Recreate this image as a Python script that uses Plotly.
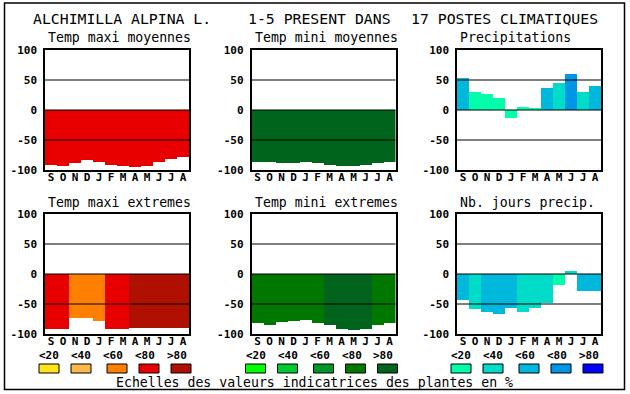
import plotly.graph_objects as go

W, H = 630, 394

months = ["S", "O", "N", "D", "J", "F", "M", "A", "M", "J", "J", "A"]
y_ticks = [-100, -50, 0, 50, 100]
grid_vals = [50, 0, -50]
class_labels = ["<20", "<40", "<60", "<80", ">80"]

tmax_moy = [-92, -93, -88, -84, -86, -92, -93, -95, -93, -87, -82, -78]
tmin_moy = [-86, -86, -88, -88, -86, -88, -91, -93, -93, -91, -88, -86]
precip = [53, 30, 27, 20, -13, 5, 2, 37, 45, 60, 30, 40]
tmax_ext = [-91, -91, -74, -74, -78, -92, -92, -90, -90, -90, -90, -90]
tmin_ext = [-82, -85, -80, -78, -76, -82, -85, -92, -93, -92, -85, -82]
nb_jours = [-44, -58, -64, -66, -56, -64, -56, -48, -18, 5, -28, -28]

tmax_moy_cls = [3] * 12
tmin_moy_cls = [4] * 12
precip_cls = [2, 0, 0, 0, 0, 0, 0, 2, 1, 3, 1, 2]
tmax_ext_cls = [3, 3, 2, 2, 2, 3, 3, 4, 4, 4, 4, 4]
tmin_ext_cls = [3, 3, 3, 3, 3, 3, 4, 4, 4, 4, 3, 3]
nb_jours_cls = [2, 1, 2, 2, 2, 1, 1, 1, 0, 1, 2, 2]

warm = ["#FFE41C", "#FFB84C", "#FF8000", "#E80000", "#B01000"]
green = ["#00FF00", "#00C832", "#009628", "#007800", "#00641C"]
blue = ["#00FFAA", "#00DCC8", "#00B8DC", "#0096E6", "#0000FF"]

title_main = ["ALCHIMILLA ALPINA L.", "1-5 PRESENT DANS", "17 POSTES CLIMATIQUES"]
footer = "Echelles des valeurs indicatrices des plantes en %"

panels = [
    ("Temp maxi moyennes", tmax_moy, tmax_moy_cls, warm, 45, 50),
    ("Temp mini moyennes", tmin_moy, tmin_moy_cls, green, 251.5, 50),
    ("Precipitations", precip, precip_cls, blue, 457, 50),
    ("Temp maxi extremes", tmax_ext, tmax_ext_cls, warm, 45, 214),
    ("Temp mini extremes", tmin_ext, tmin_ext_cls, green, 251.5, 214),
    ("Nb. jours precip.", nb_jours, nb_jours_cls, blue, 457, 214),
]
PW, PH = 144, 120

MONO = "DejaVu Sans Mono"
tickfont = dict(family=MONO, size=11, color="black", weight="bold")

def px(x):
    return x / W

def py(y):
    return 1 - y / H

fig = go.Figure()
shapes = []
annotations = []

for i, (title, vals, cls, pal, left, top) in enumerate(panels):
    n = i + 1
    xa = "x" if n == 1 else f"x{n}"
    ya = "y" if n == 1 else f"y{n}"
    fig.add_trace(go.Bar(
        x=list(range(len(months))), y=vals,
        marker=dict(color=[pal[c] for c in cls], line=dict(width=0)),
        width=1.0, xaxis=xa, yaxis=ya, showlegend=False, hoverinfo="skip",
    ))
    xkey = "xaxis" if n == 1 else f"xaxis{n}"
    ykey = "yaxis" if n == 1 else f"yaxis{n}"
    fig.update_layout(**{
        xkey: dict(domain=[px(left), px(left + PW)], anchor=ya,
                   range=[-0.5, 11.5], tickvals=list(range(12)), ticktext=months,
                   showgrid=False, zeroline=False, showline=True, mirror=True,
                   linecolor="black", linewidth=1.5, ticks="",
                   ticklabelstandoff=-4, automargin=False,
                   tickfont=tickfont, fixedrange=True),
        ykey: dict(domain=[py(top + PH), py(top)], anchor=xa,
                   range=[-100, 100], tickvals=y_ticks,
                   ticktext=[str(v) for v in y_ticks],
                   showgrid=False, zeroline=False, showline=True, mirror=True,
                   linecolor="black", linewidth=1.5, ticks="outside", ticklen=4,
                   automargin=False,
                   tickcolor="rgba(0,0,0,0)", tickfont=tickfont, fixedrange=True),
    })
    for g in grid_vals:
        shapes.append(dict(type="line", xref=f"{xa} domain", yref=ya,
                           x0=0, x1=1, y0=g, y1=g, layer="above",
                           line=dict(color="black", width=1.2)))
    annotations.append(dict(text=title, xref="paper", yref="paper",
                            x=px(left + 1), y=py(top - 12), xanchor="left",
                            yanchor="middle", showarrow=False,
                            font=dict(family=MONO, size=13.2, color="black")))
    if top > 100:
        offs = [0, 32, 68, 100, 132]
        loffs = [0, 32, 64, 96, 128]
        for k in range(5):
            bx = left - 6 + offs[k]
            shapes.append(dict(type="rect", xref="paper", yref="paper",
                               x0=px(bx), x1=px(bx + 20), y0=py(373), y1=py(364),
                               fillcolor=pal[k], line=dict(color="black", width=1)))
            lx = left - 6 + loffs[k] + 10
            annotations.append(dict(text=class_labels[k], xref="paper", yref="paper",
                                    x=px(lx), y=py(355), xanchor="center",
                                    yanchor="middle", showarrow=False,
                                    font=tickfont))

# title pieces
for txt, x0 in zip(title_main, [31, 246, 409]):
    annotations.append(dict(text=txt, xref="paper", yref="paper", x=px(x0),
                            y=py(18), xanchor="left", yanchor="middle",
                            showarrow=False,
                            font=dict(family=MONO, size=14.8, color="black")))

annotations.append(dict(text=footer, xref="paper", yref="paper", x=px(314.5),
                        y=py(382.5), xanchor="center", yanchor="middle",
                        showarrow=False,
                        font=dict(family=MONO, size=13.2, color="black")))

shapes.append(dict(type="rect", xref="paper", yref="paper",
                   x0=px(4.5), x1=px(624.5), y0=py(389.5), y1=py(3),
                   line=dict(color="black", width=1.5), fillcolor="rgba(0,0,0,0)"))

fig.update_layout(width=W, height=H,
                  margin=dict(l=0, r=0, t=0, b=0, pad=0, autoexpand=False),
                  paper_bgcolor="white", plot_bgcolor="white",
                  bargap=0, shapes=shapes, annotations=annotations)

fig.write_html("out.html", config={"displayModeBar": False},
               post_script="document.body.style.margin='0';document.body.style.padding='0';document.documentElement.style.overflow='hidden';")
